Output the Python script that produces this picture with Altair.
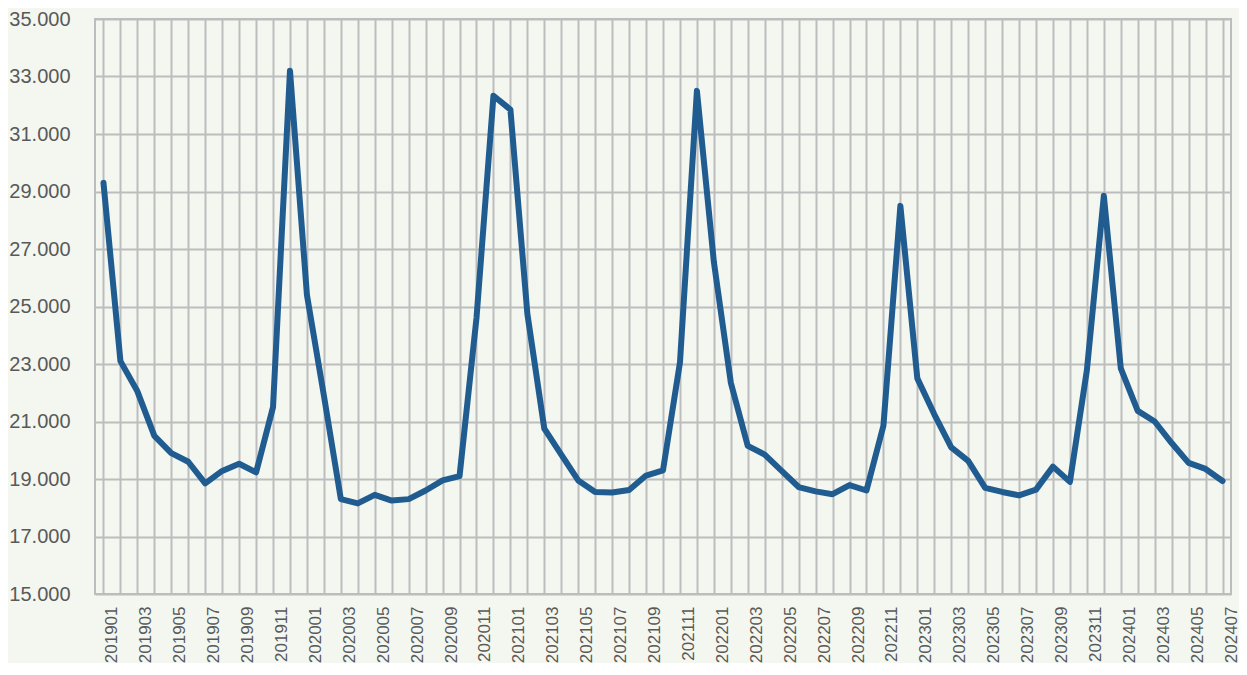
import altair as alt
import pandas as pd

periods = [
    "201901", "201902", "201903", "201904", "201905", "201906", "201907", "201908", "201909", "201910", "201911", "201912",
    "202001", "202002", "202003", "202004", "202005", "202006", "202007", "202008", "202009", "202010", "202011", "202012",
    "202101", "202102", "202103", "202104", "202105", "202106", "202107", "202108", "202109", "202110", "202111", "202112",
    "202201", "202202", "202203", "202204", "202205", "202206", "202207", "202208", "202209", "202210", "202211", "202212",
    "202301", "202302", "202303", "202304", "202305", "202306", "202307", "202308", "202309", "202310", "202311", "202312",
    "202401", "202402", "202403", "202404", "202405", "202406", "202407",
]

values = [
    29300, 23100, 22050, 20500, 19900, 19600, 18850, 19280, 19530, 19230, 21500, 33200,
    25400, 21900, 18300, 18150, 18450, 18250, 18300, 18600, 18950, 19100, 24600, 32330,
    31850, 24750, 20750, 19850, 18950, 18550, 18530, 18620, 19120, 19300, 23050, 32500,
    26550, 22350, 20150, 19850, 19280, 18720, 18570, 18470, 18790, 18600, 20850, 28500,
    22500, 21250, 20100, 19630, 18690, 18550, 18430, 18630, 19430, 18900, 22780, 28850,
    22850, 21370, 21000, 20250, 19560, 19350, 18930,
]

y_ticks = [15000, 17000, 19000, 21000, 23000, 25000, 27000, 29000, 31000, 33000, 35000]

df = pd.DataFrame({"period": periods, "value": values})

FONT = "Liberation Sans, Arial, sans-serif"
GRID = "#bdbdbd"
TEXT = "#595959"

chart = alt.Chart(df).mark_line(
    color="#215c91", strokeWidth=6, strokeCap="round", strokeJoin="round"
).encode(
    x=alt.X(
        "period:O",
        sort=periods,
        scale=alt.Scale(paddingInner=0, paddingOuter=0),
        axis=alt.Axis(
            title=None,
            bandPosition=0,
            labelOffset=8.5,
            labelAngle=270,
            labelFont=FONT,
            labelFontSize=17,
            labelColor=TEXT,
            labelPadding=12,
            labelOverlap=False,
            labelExpr="toNumber(substring(datum.label, 4, 6)) % 2 == 1 ? datum.label : ''",
            ticks=False,
            domain=False,
            grid=True,
            gridColor=GRID,
            gridWidth=2,
        ),
    ),
    y=alt.Y(
        "value:Q",
        scale=alt.Scale(domain=[15000, 35000], nice=False, zero=False),
        axis=alt.Axis(
            title=None,
            values=y_ticks,
            labelExpr="replace(format(datum.value, ',.0f'), ',', '.')",
            labelFont=FONT,
            labelFontSize=20,
            labelColor=TEXT,
            labelPadding=25,
            ticks=False,
            domain=False,
            grid=True,
            gridColor=GRID,
            gridWidth=2,
        ),
    ),
).properties(
    width=1136,
    height=575,
    background="#f3f7f0",
    padding={"left": 87, "top": 11, "right": 8, "bottom": 69},
    autosize=alt.AutoSizeParams(type="none"),
).configure_view(stroke=GRID, strokeWidth=2)

chart.save("out.html", embed_options={"renderer": "svg", "actions": False})
